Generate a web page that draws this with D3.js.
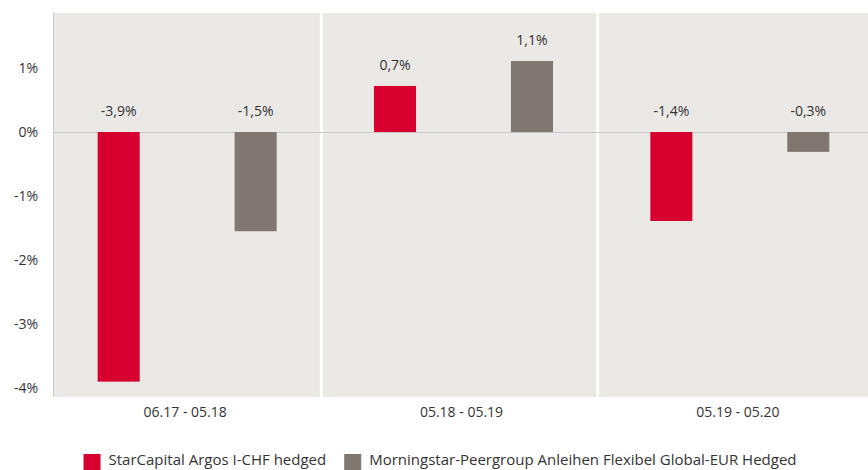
<!DOCTYPE html>
<html>
<head>
<meta charset="utf-8">
<script src="https://cdn.jsdelivr.net/npm/d3@7"></script>
<style>
  body { margin: 0; background: #fff; }
  text { font-family: "Open Sans", "Noto Sans", sans-serif; fill: #333; }
</style>
</head>
<body>
<div id="chart"></div>
<script>
var categories = ["06.17 - 05.18", "05.18 - 05.19", "05.19 - 05.20"];
var seriesNames = ["StarCapital Argos I-CHF hedged", "Morningstar-Peergroup Anleihen Flexibel Global-EUR Hedged"];
var seriesColors = ["#d7002e", "#7f7770"];
var starValues = [-3.9, 0.72, -1.39];
var peerValues = [-1.55, 1.11, -0.31];
var starLabels = ["-3,9%", "0,7%", "-1,4%"];
var peerLabels = ["-1,5%", "1,1%", "-0,3%"];
var yTicks = [1, 0, -1, -2, -3, -4];

var width = 868, height = 470;
var plot = {left: 53, right: 868, top: 13, bottom: 397};

var svg = d3.select("#chart")
    .append("svg")
        .attr("width", width)
        .attr("height", height);

var x0 = d3.scaleBand()
    .domain(categories)
    .range([49, 878]);

var step = x0.bandwidth();
var x1 = d3.scaleBand()
    .domain([0, 1])
    .range([step / 2 - 89.5, step / 2 + 89.5])
    .paddingInner(0.693);

var y = d3.scaleLinear()
    .domain([-4.14, 1.86])
    .range([plot.bottom, plot.top]);

// plot background
svg.append("rect")
    .attr("x", plot.left)
    .attr("y", plot.top)
    .attr("width", plot.right - plot.left)
    .attr("height", plot.bottom - plot.top)
    .attr("fill", "#ebe9e6");

// white separators between groups
svg.selectAll(".sep")
    .data(categories.slice(1))
    .enter()
    .append("line")
        .attr("x1", function(d) { return x0(d) - 4; })
        .attr("x2", function(d) { return x0(d) - 4; })
        .attr("y1", plot.top)
        .attr("y2", plot.bottom)
        .attr("stroke", "#fff")
        .attr("stroke-width", 3);

// zero line
svg.append("line")
    .attr("x1", plot.left)
    .attr("x2", plot.right)
    .attr("y1", Math.round(y(0)) + 0.5)
    .attr("y2", Math.round(y(0)) + 0.5)
    .attr("stroke", "#c6c8ca");

// left axis line
svg.append("line")
    .attr("x1", plot.left + 0.5)
    .attr("x2", plot.left + 0.5)
    .attr("y1", plot.top)
    .attr("y2", plot.bottom)
    .attr("stroke", "#c9c9c9");

// y axis
var yAxis = svg.append("g")
    .attr("transform", "translate(38,0)")
    .call(d3.axisLeft(y)
        .tickValues(yTicks)
        .tickSize(0)
        .tickPadding(0)
        .tickFormat(function(d) { return d + "%"; }));
yAxis.select(".domain").remove();
yAxis.selectAll("text")
    .style("font-size", "14px")
    .attr("fill", "#333");

// bars
var rows = categories.map(function(c, i) {
    return {
        cat: c,
        values: [
            {k: 0, v: starValues[i], label: starLabels[i]},
            {k: 1, v: peerValues[i], label: peerLabels[i]}
        ]
    };
});

var groups = svg.selectAll(".grp")
    .data(rows)
    .enter()
    .append("g")
        .attr("transform", function(d) { return "translate(" + x0(d.cat) + ",0)"; });

groups.selectAll("rect")
    .data(function(d) { return d.values; })
    .enter()
    .append("rect")
        .attr("x", function(d) { return x1(d.k); })
        .attr("width", x1.bandwidth())
        .attr("y", function(d) { return y(Math.max(0, d.v)); })
        .attr("height", function(d) { return Math.abs(y(d.v) - y(0)); })
        .attr("fill", function(d) { return seriesColors[d.k]; });

groups.selectAll(".val")
    .data(function(d) { return d.values; })
    .enter()
    .append("text")
        .attr("x", function(d) { return x1(d.k) + x1.bandwidth() / 2; })
        .attr("y", function(d) { return y(Math.max(0, d.v)) - 16; })
        .attr("text-anchor", "middle")
        .style("font-size", "14px")
        .text(function(d) { return d.label; });

// category labels
svg.selectAll(".cat")
    .data(categories)
    .enter()
    .append("text")
        .attr("x", function(d) { return x0(d) + step / 2 - 2; })
        .attr("y", 417)
        .attr("text-anchor", "middle")
        .style("font-size", "14px")
        .text(function(d) { return d; });

// legend (nudged up a little so the descenders are not cut by the frame)
var legend = svg.append("g");
var lx = 0;
seriesNames.forEach(function(name, i) {
    var item = legend.append("g").attr("transform", "translate(" + lx + ",0)");
    item.append("rect")
        .attr("x", 0)
        .attr("y", 454)
        .attr("width", 17)
        .attr("height", 16)
        .attr("fill", seriesColors[i]);
    var t = item.append("text")
        .attr("x", 25)
        .attr("y", 465)
        .style("font-size", "15px")
        .text(name);
    lx += 25 + t.node().getComputedTextLength() + 18;
});
var legendWidth = lx - 18;
legend.attr("transform", "translate(" + (440 - legendWidth / 2) + ",0)");
</script>
</body>
</html>
